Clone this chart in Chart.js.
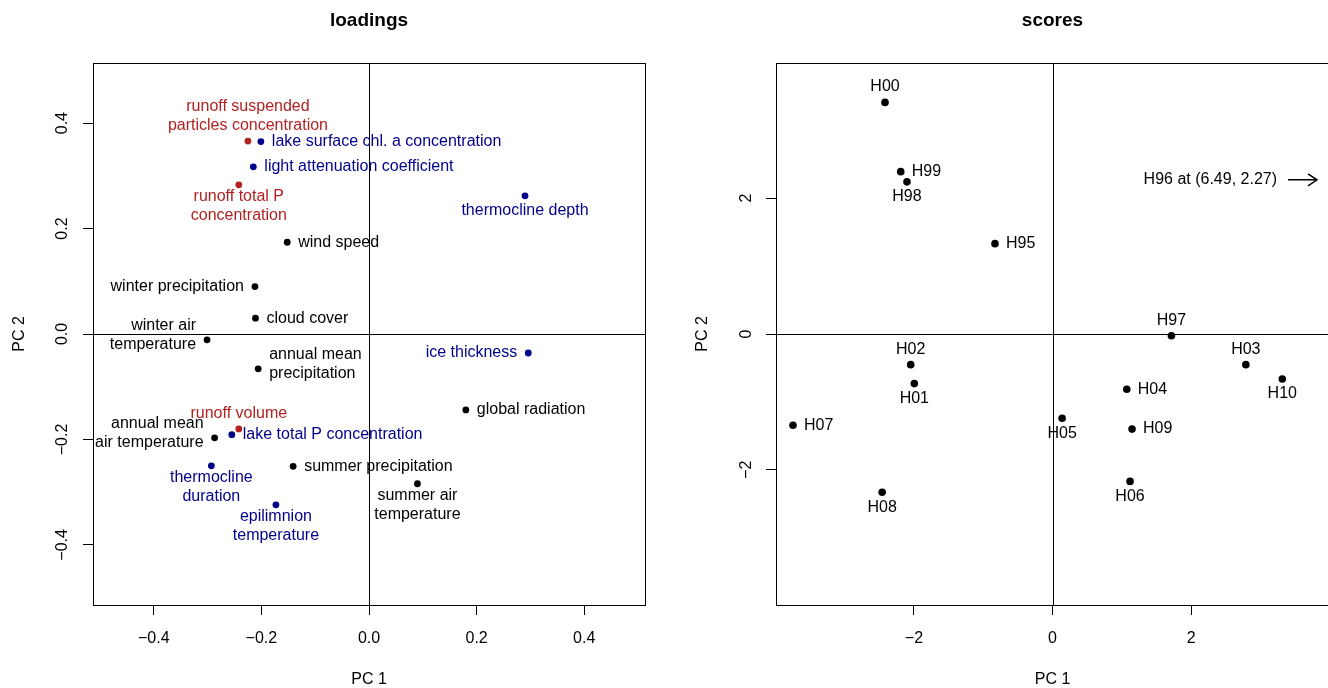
<!DOCTYPE html>
<html>
<head>
<meta charset="utf-8">
<title>loadings / scores</title>
<script src="https://cdn.jsdelivr.net/npm/chart.js@4.4.1/dist/chart.umd.min.js"></script>
<style>
    html, body { margin: 0; padding: 0; background: #fff; overflow: hidden; }
    .painel { position: absolute; top: 0; height: 688px; }
    #painelLoadings { left: 0; width: 664px; }
    #painelScores { left: 664px; width: 670px; }
</style>
</head>
<body>
<div class="painel" id="painelLoadings"><canvas id="graficoLoadings"></canvas></div>
<div class="painel" id="painelScores"><canvas id="graficoScores"></canvas></div>
<script>
// =============================
// Dados: loadings (variaveis)
// =============================
const varNames = [
    "winter air\ntemperature", "annual mean\nair temperature", "summer air\ntemperature",
    "winter precipitation", "annual mean\nprecipitation", "summer precipitation",
    "wind speed", "cloud cover", "global radiation",
    "runoff volume", "runoff total P\nconcentration", "runoff suspended\nparticles concentration",
    "lake surface chl. a concentration", "light attenuation coefficient", "thermocline depth",
    "ice thickness", "lake total P concentration", "thermocline\nduration", "epilimnion\ntemperature"
];
const varPC1 = [-0.301, -0.287, 0.090, -0.212, -0.206, -0.141, -0.152, -0.211, 0.180,
    -0.242, -0.242, -0.225, -0.201, -0.215, 0.290, 0.296, -0.255, -0.293, -0.173];
const varPC2 = [-0.011, -0.197, -0.284, 0.090, -0.066, -0.251, 0.174, 0.030, -0.144,
    -0.180, 0.283, 0.366, 0.365, 0.317, 0.262, -0.036, -0.191, -0.250, -0.324];
const varGroup = ["weather", "weather", "weather", "weather", "weather", "weather", "weather", "weather", "weather",
    "runoff", "runoff", "runoff", "lake", "lake", "lake", "lake", "lake", "lake", "lake"];

// =============================
// Dados: scores (anos)
// =============================
const yearNames = ["H95", "H96", "H97", "H98", "H99", "H00", "H01", "H02", "H03", "H04", "H05", "H06", "H07", "H08", "H09", "H10"];
const yearPC1 = [-0.83, 6.49, 1.716, -2.10, -2.19, -2.417, -1.994, -2.046, 2.79, 1.072, 0.139, 1.119, -3.745, -2.458, 1.148, 3.316];
const yearPC2 = [1.33, 2.27, -0.025, 2.24, 2.39, 3.41, -0.73, -0.451, -0.451, -0.814, -1.24, -2.17, -1.344, -2.33, -1.40, -0.662];

// ticks
const loadTicks = [-0.4, -0.2, 0.0, 0.2, 0.4];
const scoreTicks = [-2, 0, 2];

// =============================
// Estilos / posicao dos rotulos
// =============================
const groupColor = { weather: "#000000", runoff: "#B22222", lake: "#00008B" };
const varSide = ["left", "left", "below", "left", "right", "right", "right", "right", "right",
    "above", "below", "above", "right", "right", "below", "left", "right", "below", "below"];
const yearSide = ["right", "right", "above", "below", "right", "above", "below", "above", "above",
    "right", "below", "below", "right", "below", "right", "below"];

const FONTE = '"Liberation Sans", Arial, Helvetica, sans-serif';
const menos = v => String(v).replace("-", "\u2212");

// =============================
// Plugin: moldura, eixos zero, titulo e rotulos
// =============================
function pluginPCA(titulo, nomes, cores, lados) {
    return {
        id: "pca_" + titulo,
        beforeDatasetsDraw(chart) {
            const { ctx, chartArea: a, scales: { x, y } } = chart;
            ctx.save();
            ctx.strokeStyle = "#000";
            ctx.lineWidth = 1;
            const x0 = Math.round(x.getPixelForValue(0)) + 0.5;
            const y0 = Math.round(y.getPixelForValue(0)) + 0.5;
            ctx.beginPath();
            ctx.moveTo(x0, a.top); ctx.lineTo(x0, a.bottom);
            ctx.moveTo(a.left, y0); ctx.lineTo(a.right, y0);
            ctx.stroke();
            ctx.strokeRect(Math.round(a.left) + 0.5, Math.round(a.top) + 0.5,
                Math.round(a.right - a.left), Math.round(a.bottom - a.top));
            ctx.restore();
        },
        afterDatasetsDraw(chart) {
            const { ctx, chartArea: a, scales: { x, y } } = chart;
            const meta = chart.getDatasetMeta(0);
            const ds = chart.data.datasets[0].data;
            ctx.save();

            ctx.fillStyle = "#000";
            ctx.font = "bold 19px " + FONTE;
            ctx.textAlign = "center";
            ctx.textBaseline = "middle";
            ctx.fillText(titulo, (a.left + a.right) / 2, 21);

            ctx.font = "16px " + FONTE;
            meta.data.forEach((pt, i) => {
                const linhas = nomes[i].split("\n");
                const n = linhas.length;
                if (ds[i].x > x.max) {
                    // ponto fora do grafico: nota com seta
                    const py = y.getPixelForValue(ds[i].y);
                    ctx.fillStyle = "#000";
                    ctx.textAlign = "right";
                    ctx.fillText(nomes[i] + " at (" + ds[i].x.toFixed(2) + ", " + ds[i].y.toFixed(2) + ")", a.right - 52, py);
                    ctx.strokeStyle = "#000";
                    ctx.lineWidth = 1.5;
                    ctx.beginPath();
                    ctx.moveTo(a.right - 41, py); ctx.lineTo(a.right - 12, py);
                    ctx.moveTo(a.right - 21, py - 6); ctx.lineTo(a.right - 12, py); ctx.lineTo(a.right - 21, py + 6);
                    ctx.stroke();
                    return;
                }
                ctx.fillStyle = cores[i];
                let px = pt.x, y0;
                const lado = lados[i];
                if (lado === "right" || lado === "left") {
                    ctx.textAlign = lado === "right" ? "left" : "right";
                    px += lado === "right" ? 11 : -11;
                    y0 = n === 1 ? pt.y : pt.y - 4.5 - (n - 1) * 9.5;
                } else if (lado === "above") {
                    ctx.textAlign = "center";
                    y0 = pt.y - 15.5 - (n - 1) * 19;
                } else {
                    ctx.textAlign = "center";
                    y0 = pt.y + (n > 1 ? 12 : 15);
                }
                linhas.forEach((l, k) => ctx.fillText(l, px, y0 + k * 19));
            });
            ctx.restore();
        }
    };
}

function eixo(titulo, lim, passo, larguraY, fmt, padY) {
    const fonte = { family: FONTE, size: 16 };
    return {
        x: {
            type: "linear", min: -lim.x, max: lim.x,
            afterFit: s => { s.height = 83; },
            afterBuildTicks: s => { s.ticks = passo.map(v => ({ value: v })); },
            grid: { drawOnChartArea: false, drawTicks: true, tickLength: 10, color: "#000" },
            border: { display: false },
            ticks: { color: "#000", font: fonte, padding: 14, maxRotation: 0, callback: fmt },
            title: { display: true, text: "PC 1", color: "#000", font: { family: FONTE, size: 16, lineHeight: 1 }, padding: { top: 0, bottom: 0 } }
        },
        y: {
            type: "linear", min: -lim.y, max: lim.y,
            afterFit: s => { s.width = larguraY; },
            afterBuildTicks: s => { s.ticks = passo.map(v => ({ value: v })); },
            grid: { drawOnChartArea: false, drawTicks: true, tickLength: 10, color: "#000" },
            border: { display: false },
            ticks: { color: "#000", font: fonte, padding: padY, minRotation: 90, maxRotation: 90, crossAlign: "center", callback: fmt },
            title: { display: true, text: "PC 2", color: "#000", font: fonte, padding: { top: larguraY - 93 + 10, bottom: 0 } }
        }
    };
}

// =============================
// 1. Grafico: loadings
// =============================
new Chart(document.getElementById("graficoLoadings"), {
    type: "scatter",
    data: {
        datasets: [{
            data: varPC1.map((v, i) => ({ x: v, y: varPC2[i] })),
            pointBackgroundColor: varGroup.map(g => groupColor[g]),
            pointBorderWidth: 0,
            pointRadius: 3.4
        }]
    },
    options: {
        responsive: true, maintainAspectRatio: false, animation: false,
        layout: { autoPadding: false, padding: { top: 63, right: 19, bottom: 0, left: 0 } },
        plugins: { legend: { display: false }, tooltip: { enabled: false } },
        scales: eixo("loadings", { x: 0.513, y: 0.514 }, loadTicks, 93, v => menos(v.toFixed(1)), 5)
    },
    plugins: [pluginPCA("loadings", varNames, varGroup.map(g => groupColor[g]), varSide)]
});

// =============================
// 2. Grafico: scores
// =============================
new Chart(document.getElementById("graficoScores"), {
    type: "scatter",
    data: {
        datasets: [{
            data: yearPC1.map((v, i) => ({ x: v, y: yearPC2[i] })),
            pointBackgroundColor: "#000",
            pointBorderWidth: 0,
            pointRadius: 3.8
        }]
    },
    options: {
        responsive: true, maintainAspectRatio: false, animation: false,
        layout: { autoPadding: false, padding: { top: 63, right: 5, bottom: 0, left: 0 } },
        plugins: { legend: { display: false }, tooltip: { enabled: false } },
        scales: eixo("scores", { x: 3.99, y: 3.99 }, scoreTicks, 112, v => menos(v), 10)
    },
    plugins: [pluginPCA("scores", yearNames, yearNames.map(() => "#000"), yearSide)]
});
</script>
</body>
</html>
